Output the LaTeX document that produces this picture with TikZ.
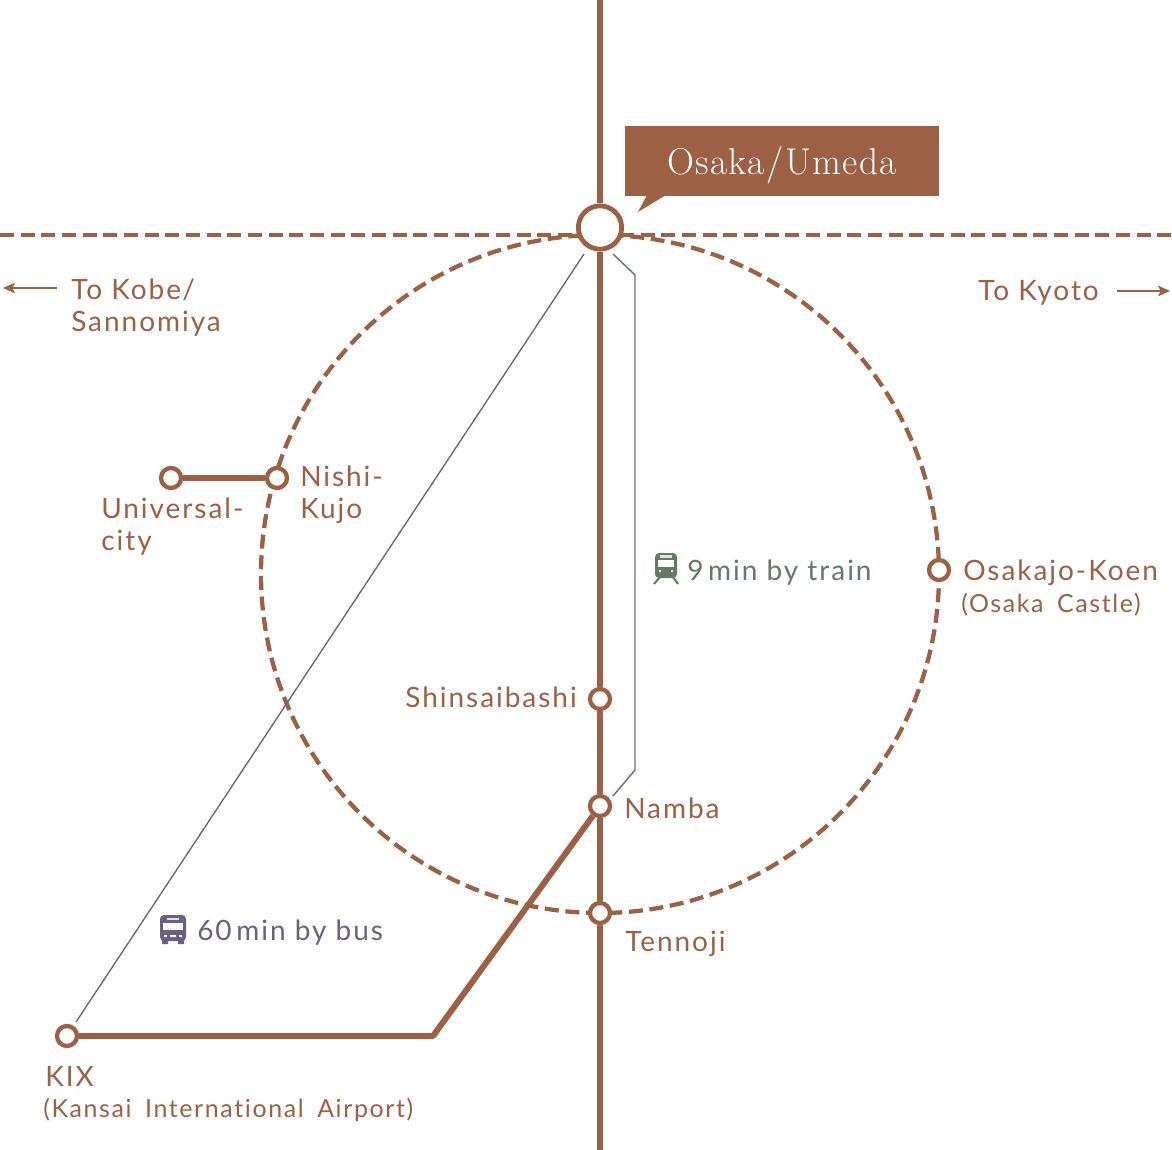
\documentclass[tikz,border=0pt]{standalone}
\usepackage{fontspec}
\usetikzlibrary{arrows.meta}
\setmainfont[LetterSpace=7,Ligatures=NoCommon]{Lato}
\newfontfamily\smallfont[LetterSpace=6.5,WordSpace=1.7,Ligatures=NoCommon]{Lato}
\newfontfamily\hubfont[LetterSpace=3]{Latin Modern Roman}
\definecolor{rail}{HTML}{9C6044}
\definecolor{trainc}{HTML}{647A66}
\definecolor{busc}{HTML}{6A6080}
\tikzset{
  station/.style={circle,draw=rail,line width=3.2pt,fill=white,minimum size=15pt,inner sep=0pt},
  hub/.style={circle,draw=rail,line width=3.6pt,fill=white,minimum size=32.5pt,inner sep=0pt},
  railline/.style={draw=rail,line width=4.5pt},
  loopline/.style={draw=rail,line width=3.2pt,dash pattern=on 10.5pt off 5pt},
  label/.style={text=rail,font=\fontsize{21pt}{23.6pt}\selectfont,align=left,inner sep=0pt},
  smalllabel/.style={text=rail,font=\smallfont\fontsize{18.7pt}{20pt}\selectfont,align=left,inner sep=0pt},
  sidearrow/.style={-{Stealth[length=9pt,width=8pt,inset=2pt]},rail,line width=1pt},
}
\begin{document}
\begin{tikzpicture}[x=0.75pt,y=-0.75pt,>=latex]
    \useasboundingbox (0,0) rectangle (1172,1150);
    % loop and the line through the hub
    \coordinate (kobeend) at (0,235);
    \coordinate (kyotoend) at (1172,235);
    \coordinate (northend) at (600,0);
    \coordinate (southend) at (600,1150);
    \coordinate (loopcentre) at (600,574);
    \draw[loopline] (kobeend) -- (kyotoend);
    \draw[loopline] (loopcentre) ++(90:339) arc [start angle=90,end angle=450,radius=339];
    % stations
    \node[hub] (umeda) at (600,227.5) {};
    \node[station] (shinsaibashi) at (600,699) {};
    \node[station] (namba) at (600,806) {};
    \node[station] (tennoji) at (600,913) {};
    \node[station] (osakajo) at (939,570) {};
    \node[station] (nishikujo) at (277,478) {};
    \node[station] (universal) at (171,478) {};
    \node[station] (kix) at (67,1036) {};
    \coordinate (kixbend) at (433,1036);
    % lines
    \draw[railline] (northend) -- (umeda);
    \draw[railline] (umeda) -- (shinsaibashi);
    \draw[railline] (shinsaibashi) -- (namba);
    \draw[railline] (namba) -- (tennoji);
    \draw[railline] (tennoji) -- (southend);
    \draw[railline] (universal) -- (nishikujo);
    \draw[railline,line join=round] (kix) -- (kixbend) -- (namba);
    % bus and train times
    \coordinate (busa) at (584,254);
    \coordinate (busb) at (76,1022);
    \draw[busc,line width=1pt] (busa) -- (busb);
    \coordinate (traina) at (613,254);
    \coordinate (trainb) at (613,796);
    \draw[trainc,line width=1.1pt] (traina) -- (635,275) -- (635,770) -- (trainb);
    % callout
    \node[fill=rail,minimum width=235.5pt,minimum height=52.5pt,inner sep=0pt,text=white,
      text height=24pt,text depth=4.5pt,
      font=\hubfont\fontsize{28pt}{30pt}\selectfont] (callout) at (782,161)
      {Osaka\kern1.5pt/\kern1.5pt Umeda};
    \fill[rail] (647,195) -- (638,212) -- (666,195) -- cycle;
    % labels
    \node[label,anchor=base west] (kobe) at (71,331) {To Kobe\kern1pt/\\Sannomiya};
    \node[label,anchor=base west] (kyoto) at (978,300) {To Kyoto};
    \coordinate (kobearrow) at (3,288);
    \coordinate (kyotoarrow) at (1170,291);
    \draw[sidearrow] (57,288) -- (kobearrow);
    \draw[sidearrow] (1117,291) -- (kyotoarrow);
    \node[label,anchor=base west] (nishilabel) at (300,518) {Nishi-\\Kujo};
    \node[label,anchor=base west] (univlabel) at (101,550) {Universal-\\city};
    \node[label,anchor=base west] (osakajolabel) at (963,580) {Osakajo-Koen};
    \node[smalllabel,anchor=base west] (castlelabel) at (961,612) {(Osaka Castle)};
    \node[label,anchor=base east] (shinlabel) at (577,707) {Shinsaibashi};
    \node[label,anchor=base west] (nambalabel) at (624,818) {Namba};
    \node[label,anchor=base west] (tennolabel) at (625,951) {Tennoji};
    \node[label,anchor=base west] (kixlabel) at (45,1086) {KIX};
    \node[smalllabel,anchor=base west] (airportlabel) at (43,1117) {(Kansai International Airport)};
    \node[label,text=trainc,anchor=base west] (trainlabel) at (687,580) {9\,min by train};
    \node[label,text=busc,anchor=base west] (buslabel) at (197,940) {60\,min by bus};
    % train icon
    \fill[trainc,rounded corners=3pt] (655,553) rectangle (677,578);
    \fill[white!80!trainc] (660,555) rectangle (672,558);
    \fill[white] (658,560) rectangle (674,567);
    \fill[white!80!trainc] (659,570) rectangle (661,572) (671,570) rectangle (673,572);
    \draw[trainc,line width=1.6pt] (660,577) -- (654,584) (673,577) -- (678,584);
    % bus icon
    \fill[busc,rounded corners=3pt] (160,915) rectangle (186,941);
    \fill[busc] (162,940) rectangle (168,944) (178,940) rectangle (184,944);
    \fill[white!80!busc] (167,918) rectangle (179,920);
    \fill[white] (163,923) rectangle (183,930);
    \fill[white] (164,935) rectangle (167,937) (170,935) rectangle (176,937) (179,935) rectangle (182,937);
\end{tikzpicture}
\end{document}
